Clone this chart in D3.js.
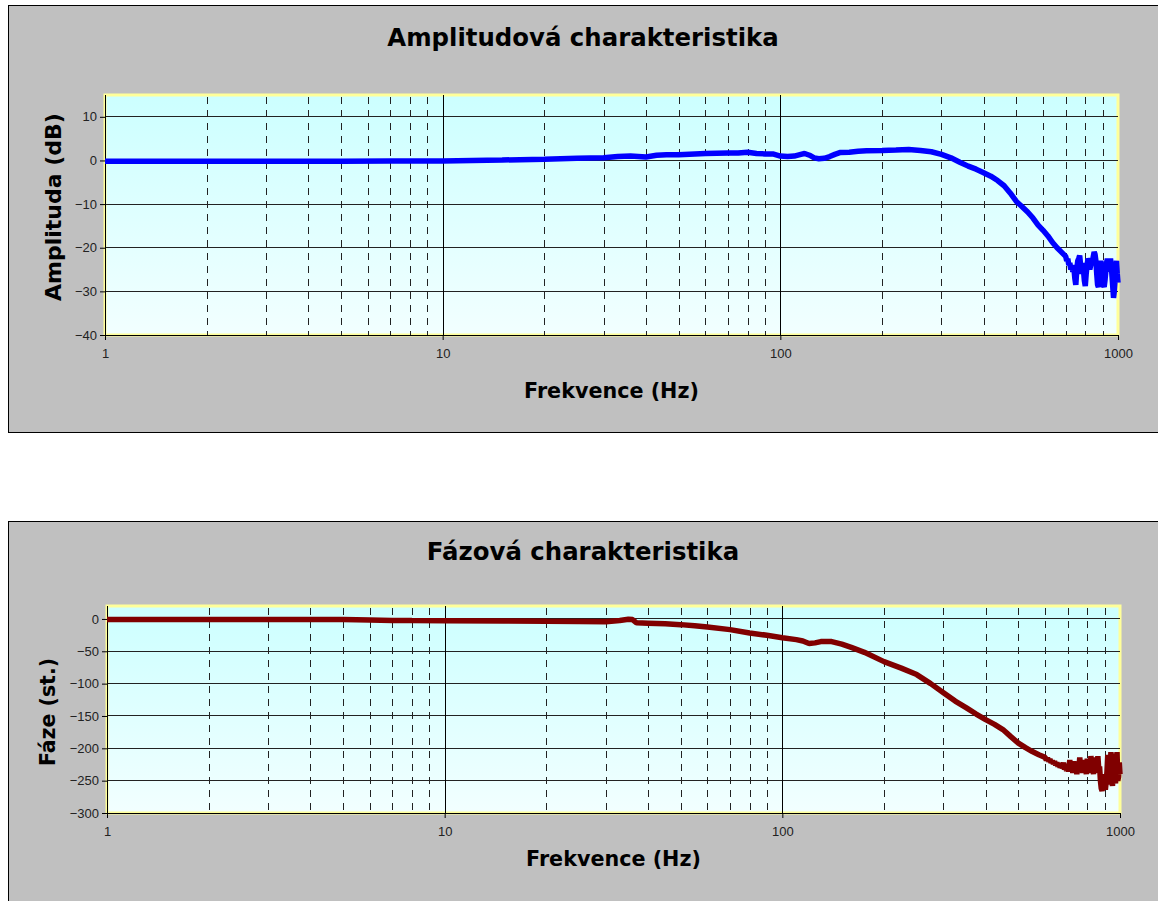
<!DOCTYPE html>
<html lang="cs">
<head>
<meta charset="utf-8">
<title>Amplitudová a fázová charakteristika</title>
<style>
    body { margin: 0; background: #fff; }
    svg { display: block; font-family: Arial, "Liberation Sans", sans-serif; }
    .tick text { fill: #222; font-size: 13px; }
    .domain { display: none; }
    .tick line { stroke: #000; }
    .lbl { font-family: "DejaVu Sans", Verdana, sans-serif; font-weight: bold; }
</style>
<script src="https://d3js.org/d3.v7.min.js"></script>
</head>
<body>
<svg></svg>
<script>
    // frequency ticks (Hz)
    const majorFreq = [1, 10, 100, 1000];
    const minorFreq = [2, 3, 4, 5, 6, 7, 8, 9, 20, 30, 40, 50, 60, 70, 80, 90, 200, 300, 400, 500, 600, 700, 800, 900];

    const ampTicks = [-40, -30, -20, -10, 0, 10];
    const phaseTicks = [-300, -250, -200, -150, -100, -50, 0];

    // amplitude (dB)
    const ampFreq = [1, 2, 3, 5, 7, 10, 15, 20, 25, 30, 33, 36, 40, 43, 46, 50, 60, 70, 75, 80, 85, 90, 95,
        100, 105, 110, 115, 118, 122, 126, 130, 135, 140, 145, 150, 160, 170, 180, 200, 220, 240, 260, 280,
        300, 320, 340, 360, 380, 400, 420, 440, 460, 480, 500, 520, 540, 560, 580, 600, 620, 640, 660, 680,
        700, 705, 710, 715, 720, 725, 730, 735, 740, 745, 750, 755, 760, 765, 770, 775, 780, 785, 790, 795,
        800, 805, 810, 815, 820, 825, 830, 835, 840, 845, 850, 855, 860, 865, 870, 875, 880, 885, 890, 895,
        900, 905, 910, 915, 920, 925, 930, 935, 940, 945, 950, 955, 960, 965, 970, 975, 980, 985, 990, 995, 1000];
    const ampDb = [-0.2, -0.2, -0.2, -0.2, -0.1, -0.1, 0.1, 0.3, 0.5, 0.6, 0.9, 1.0, 0.8, 1.2, 1.3, 1.3, 1.6, 1.7, 1.7, 1.9, 1.6, 1.5, 1.5,
        1.0, 0.9, 1.0, 1.4, 1.6, 1.2, 0.6, 0.4, 0.5, 0.9, 1.4, 1.8, 1.9, 2.1, 2.2, 2.3, 2.4, 2.5, 2.3, 2.0,
        1.4, 0.6, -0.4, -1.3, -2.0, -2.8, -3.6, -4.6, -5.8, -7.5, -9.4, -10.6, -11.8, -13.2, -14.8, -16.0, -17.3, -18.8, -20.0, -21.0,
        -22.0, -23.0, -22.5, -24.0, -23.5, -25.0, -24.0, -25.5, -24.5, -27.0, -28.5, -25.0, -23.0, -22.5, -21.8, -24.0, -26.0, -23.5, -25.0, -27.5,
        -28.8, -26.0, -24.0, -22.5, -23.0, -25.0, -24.0, -22.5, -23.5, -22.0, -21.0, -21.5, -23.0, -26.0, -28.5, -29.0, -27.0, -25.0, -23.0, -25.0,
        -27.0, -28.5, -29.0, -27.5, -25.5, -23.5, -22.5, -24.0, -25.5, -24.0, -22.5, -24.0, -26.5, -29.0, -31.5, -30.0, -27.5, -24.5, -23.0, -26.0, -28.0];

    // phase (degrees)
    const phaseFreq = [1, 2, 3, 4, 5, 6, 7, 8, 10, 15, 20, 25, 30, 33, 35, 36, 37, 40, 45, 50, 55, 60, 70, 80, 90,
        100, 110, 115, 120, 125, 130, 140, 150, 160, 175, 200, 225, 250, 275, 300, 325, 350, 375, 400, 425,
        450, 475, 500, 525, 550, 575,
        600, 605, 610, 615, 620, 625, 630, 635, 640, 645, 650, 655, 660, 665, 670, 675, 680, 685, 690, 695,
        700, 705, 710, 715, 720, 725, 730, 735, 740, 745, 750, 755, 760, 765, 770, 775, 780, 785, 790, 795,
        800, 805, 810, 815, 820, 825, 830, 835, 840, 845, 850, 855, 860, 865, 870, 875, 880, 885, 890, 895,
        900, 905, 910, 915, 920, 925, 930, 935, 940, 945, 950, 955, 960, 965, 970, 975, 980, 985, 990, 995, 1000];
    const phaseDeg = [-1, -1, -1, -1, -1, -1.5, -2.5, -2.6, -2.7, -3, -3.6, -3.8, -4.2, -2.5, -0.5, -1, -6, -6.5, -7.5, -8.8, -10.5, -12.4, -16.5, -21.7, -25.3,
        -29, -32, -34, -38, -37, -35, -35, -39, -44, -51.6, -66, -76, -86, -100, -114, -127, -137, -147, -155.7, -163,
        -171, -182, -192, -199, -205, -210,
        -214, -218, -215, -220, -217, -222, -219, -224, -220, -226, -222, -228, -223, -230, -224, -231, -222, -233, -226, -235,
        -224, -236, -218, -234, -226, -238, -220, -236, -228, -240, -222, -234, -214, -232, -225, -238, -218, -236, -226, -240,
        -216, -232, -222, -238, -212, -230, -226, -240, -214, -234, -220, -238, -212, -232, -228, -250, -262, -266, -248, -258,
        -240, -264, -252, -236, -210, -240, -256, -230, -206, -248, -258, -226, -208, -246, -254, -230, -206, -250, -244, -222, -240];

    const width = 1158;
    const height = 901;

    const svg = d3.select('svg').attr('width', width).attr('height', height);

    const defs = svg.append('defs');
    const grad = defs.append('linearGradient')
        .attr('id', 'plotBg')
        .attr('x1', 0).attr('y1', 0).attr('x2', 0).attr('y2', 1);
    grad.append('stop').attr('offset', '0%').attr('stop-color', '#ccffff');
    grad.append('stop').attr('offset', '100%').attr('stop-color', '#f2ffff');

    drawChart({
        box: [8.5, 5.5, 1170, 427],
        plot: {left: 105, top: 95, right: 1118, bottom: 335},
        yDomain: [-40, 15],
        yTicks: ampTicks,
        freq: ampFreq,
        values: ampDb,
        color: '#0000ff',
        title: 'Amplitudová charakteristika',
        titleY: 46,
        yLabel: 'Amplituda (dB)',
        yLabelX: 61,
        yLabelY: 207,
        yLabelSize: 22,
        xLabelY: 398
    });

    drawChart({
        box: [8.5, 521.5, 1170, 420],
        plot: {left: 107, top: 606, right: 1120, bottom: 813},
        yDomain: [-300, 20],
        yTicks: phaseTicks,
        freq: phaseFreq,
        values: phaseDeg,
        color: '#800000',
        title: 'Fázová charakteristika',
        titleY: 560,
        yLabel: 'Fáze (st.)',
        yLabelX: 55,
        yLabelY: 712,
        yLabelSize: 20.5,
        xLabelY: 866
    });

    function drawChart(o) {
        const g = svg.append('g');
        const p = o.plot;

        g.append('rect')
            .attr('x', o.box[0]).attr('y', o.box[1])
            .attr('width', o.box[2]).attr('height', o.box[3])
            .attr('fill', '#c0c0c0')
            .attr('stroke', '#000')
            .attr('stroke-width', 1);

        const x = d3.scaleLog().domain([1, 1000]).range([p.left, p.right]);
        const y = d3.scaleLinear().domain(o.yDomain).range([p.bottom, p.top]);

        g.append('rect')
            .attr('x', p.left).attr('y', p.top)
            .attr('width', p.right - p.left).attr('height', p.bottom - p.top)
            .attr('fill', 'url(#plotBg)')
            .attr('stroke', '#ffff99')
            .attr('stroke-width', 3);

        // horizontal grid
        g.append('g').selectAll('line')
            .data(o.yTicks.filter(d => d !== o.yDomain[0]))
            .enter().append('line')
            .attr('x1', p.left).attr('x2', p.right)
            .attr('y1', d => y(d)).attr('y2', d => y(d))
            .attr('stroke', '#222').attr('stroke-width', 1)
            .attr('shape-rendering', 'crispEdges');

        // minor verticals, dashed
        g.append('g').selectAll('line')
            .data(minorFreq)
            .enter().append('line')
            .attr('x1', d => Math.round(x(d)) + 0.5).attr('x2', d => Math.round(x(d)) + 0.5)
            .attr('y1', p.top + 2).attr('y2', p.bottom)
            .attr('stroke', '#222').attr('stroke-width', 1)
            .attr('stroke-dasharray', '7,6');

        // decade verticals
        g.append('g').selectAll('line')
            .data(majorFreq.slice(1, 3))
            .enter().append('line')
            .attr('x1', d => Math.round(x(d)) + 0.5).attr('x2', d => Math.round(x(d)) + 0.5)
            .attr('y1', p.top).attr('y2', p.bottom)
            .attr('stroke', '#000').attr('stroke-width', 1);

        // axis lines
        g.append('line')
            .attr('x1', p.left + 0.5).attr('x2', p.left + 0.5)
            .attr('y1', p.top).attr('y2', p.bottom)
            .attr('stroke', '#000');
        g.append('line')
            .attr('x1', p.left).attr('x2', p.right)
            .attr('y1', p.bottom + 0.5).attr('y2', p.bottom + 0.5)
            .attr('stroke', '#000');

        const line = d3.line()
            .x(d => x(d[0]))
            .y(d => y(d[1]));

        g.append('path')
            .datum(d3.zip(o.freq, o.values))
            .attr('d', line)
            .attr('fill', 'none')
            .attr('stroke', o.color)
            .attr('stroke-width', 5.5)
            .attr('stroke-linejoin', 'bevel');

        g.append('g')
            .attr('transform', `translate(${p.left},0)`)
            .call(d3.axisLeft(y).tickValues(o.yTicks).tickSize(5).tickPadding(3));

        g.append('g')
            .attr('transform', `translate(0,${p.bottom})`)
            .call(d3.axisBottom(x).tickValues(majorFreq).tickFormat(d3.format('d')).tickSize(5).tickPadding(9));

        const cx = (p.left + p.right) / 2;

        g.append('text')
            .attr('class', 'lbl')
            .attr('x', 583).attr('y', o.titleY)
            .attr('text-anchor', 'middle')
            .attr('font-size', 24.4)
            .text(o.title);

        g.append('text')
            .attr('class', 'lbl')
            .attr('x', cx).attr('y', o.xLabelY)
            .attr('text-anchor', 'middle')
            .attr('font-size', 20.7)
            .text('Frekvence (Hz)');

        g.append('text')
            .attr('class', 'lbl')
            .attr('transform', `translate(${o.yLabelX},${o.yLabelY}) rotate(-90)`)
            .attr('text-anchor', 'middle')
            .attr('font-size', o.yLabelSize)
            .text(o.yLabel);
    }
</script>
</body>
</html>
